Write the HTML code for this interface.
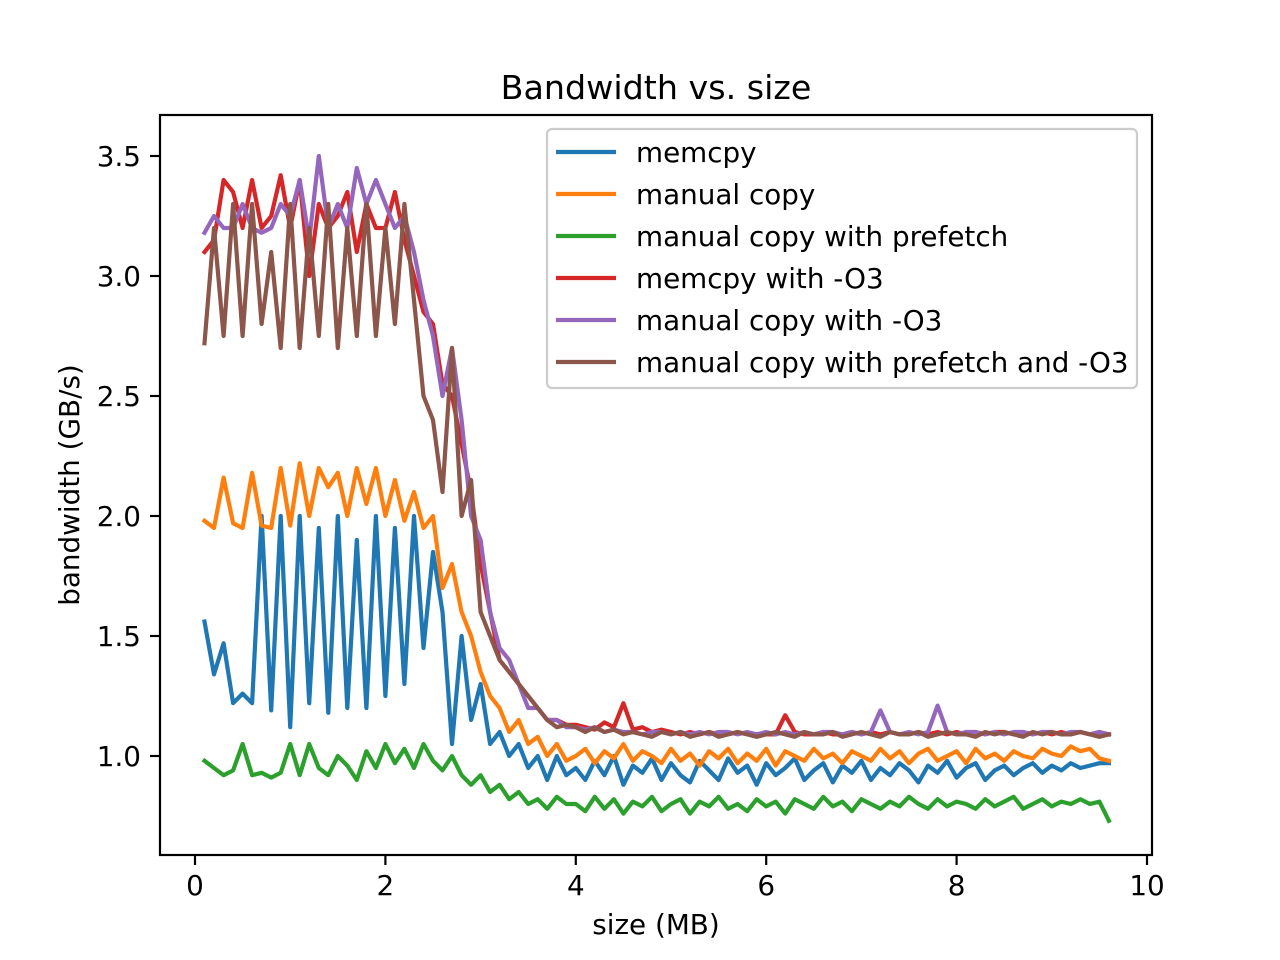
<!DOCTYPE html>
<html><head><meta charset="utf-8"><style>
html,body{margin:0;padding:0;background:#fff;}
svg{display:block;font-family:"DejaVu Sans","Liberation Sans",sans-serif;}
</style></head><body>
<svg id="chart" width="1280" height="960" viewBox="0 0 1280 960" xmlns="http://www.w3.org/2000/svg">
<rect width="1280" height="960" fill="#fff"/>
<text x="656" y="99" font-size="33.3" text-anchor="middle">Bandwidth vs. size</text>
<g id="plot"></g>
<g id="axes"></g>
<rect x="160" y="115" width="992" height="740" fill="none" stroke="#000" stroke-width="2.2"/>
<text x="656" y="934" font-size="27.8" text-anchor="middle">size (MB)</text>
<text transform="translate(79,485) rotate(-90)" font-size="27.8" text-anchor="middle">bandwidth (GB/s)</text>
<g id="legend"></g>
</svg>
<script>
const xStart = 0.1, xStep = 0.1;
const xTicks = [0, 2, 4, 6, 8, 10];
const yTicks = [1.0, 1.5, 2.0, 2.5, 3.0, 3.5];
const seriesNames = ["memcpy","manual copy","manual copy with prefetch","memcpy with -O3","manual copy with -O3","manual copy with prefetch and -O3"];
const seriesColors = ["#1f77b4","#ff7f0e","#2ca02c","#d62728","#9467bd","#8c564b"];
const memcpy = [1.56,1.34,1.47,1.22,1.26,1.22,2.0,1.19,2.0,
1.12,2.0,1.22,1.95,1.18,2.0,1.2,1.9,1.2,2.0,
1.25,1.95,1.3,2.0,1.45,1.85,1.6,1.05,1.5,1.15,
1.3,1.05,1.1,1.0,1.05,0.95,1.0,0.9,1.0,0.92,
0.95,0.9,0.98,0.92,1.0,0.88,0.96,0.93,0.99,0.9,0.97,0.92,0.89,0.98,0.94,0.9,0.99,0.93,0.96,0.88,0.97,0.92,0.95,0.99,0.9,0.94,0.97,0.89,0.96,0.93,0.98,0.9,0.95,0.92,0.97,0.94,0.89,0.96,0.93,0.98,0.91,0.95,0.97,0.9,0.94,0.96,0.92,0.95,0.97,0.93,0.96,0.94,0.97,0.95,0.96,0.97,0.97];
const manualCopy = [1.98,1.95,2.16,1.97,1.95,2.18,1.96,1.95,2.2,
1.96,2.22,2.0,2.2,2.12,2.18,2.0,2.2,2.05,2.2,
2.0,2.15,1.98,2.1,1.95,2.0,1.7,1.8,1.6,1.5,
1.35,1.25,1.2,1.1,1.15,1.05,1.08,1.0,1.05,0.98,
1.0,1.03,0.97,1.02,0.99,1.05,0.98,1.02,1.0,0.97,1.03,0.98,1.01,0.96,1.02,0.99,1.03,0.97,1.01,0.98,1.03,0.96,1.02,1.0,0.98,1.03,0.99,1.01,0.97,1.02,1.0,0.98,1.03,0.99,1.02,0.97,1.01,1.03,0.98,1.0,1.02,0.97,1.03,0.99,1.01,0.98,1.02,1.0,0.99,1.03,1.01,1.0,1.04,1.02,1.03,0.99,0.98];
const prefetch = [0.98,0.95,0.92,0.94,1.05,0.92,0.93,0.91,0.93,
1.05,0.92,1.05,0.95,0.92,1.0,0.96,0.9,1.02,0.95,
1.05,0.97,1.03,0.95,1.05,0.98,0.94,1.0,0.92,0.88,
0.92,0.85,0.88,0.82,0.85,0.8,0.82,0.78,0.83,0.8,
0.8,0.77,0.83,0.78,0.82,0.76,0.81,0.79,0.83,0.77,0.8,0.82,0.76,0.81,0.79,0.83,0.78,0.8,0.77,0.82,0.79,0.81,0.76,0.82,0.8,0.78,0.83,0.79,0.81,0.77,0.82,0.8,0.78,0.81,0.79,0.83,0.8,0.78,0.82,0.79,0.81,0.8,0.78,0.82,0.79,0.81,0.83,0.78,0.8,0.82,0.79,0.81,0.8,0.82,0.8,0.81,0.73];
const memcpyO3 = [3.1,3.15,3.4,3.35,3.2,3.4,3.2,3.25,3.42,
3.2,3.4,3.0,3.3,3.2,3.25,3.35,3.1,3.3,3.2,
3.2,3.35,3.15,3.0,2.85,2.8,2.55,2.5,2.3,2.1,
1.8,1.6,1.4,1.35,1.3,1.25,1.2,1.15,1.15,1.13,
1.13,1.12,1.11,1.14,1.12,1.22,1.11,1.12,1.1,1.11,1.1,1.09,1.1,1.09,1.1,1.09,1.09,1.1,1.09,1.09,1.09,1.09,1.17,1.1,1.09,1.09,1.1,1.09,1.09,1.1,1.09,1.1,1.09,1.1,1.09,1.09,1.1,1.09,1.1,1.09,1.1,1.09,1.1,1.09,1.1,1.1,1.09,1.1,1.09,1.1,1.09,1.1,1.09,1.1,1.09,1.1,1.09];
const manualO3 = [3.18,3.25,3.2,3.2,3.3,3.2,3.18,3.2,3.3,
3.25,3.4,3.15,3.5,3.2,3.3,3.2,3.45,3.3,3.4,
3.3,3.2,3.25,3.1,2.9,2.75,2.5,2.7,2.4,2.0,
1.9,1.6,1.45,1.4,1.3,1.2,1.2,1.15,1.15,1.12,
1.12,1.11,1.12,1.1,1.11,1.1,1.1,1.09,1.1,1.1,1.09,1.1,1.09,1.1,1.09,1.1,1.1,1.09,1.1,1.09,1.1,1.09,1.1,1.09,1.1,1.09,1.1,1.1,1.09,1.1,1.09,1.1,1.19,1.1,1.09,1.1,1.09,1.1,1.21,1.1,1.09,1.1,1.1,1.09,1.1,1.09,1.1,1.1,1.09,1.1,1.1,1.09,1.1,1.1,1.09,1.1,1.09];
const prefetchO3 = [2.72,3.2,2.75,3.3,2.75,3.3,2.8,3.1,2.7,
3.3,2.7,3.2,2.75,3.3,2.7,3.2,2.75,3.3,2.75,
3.2,2.8,3.3,2.9,2.5,2.4,2.1,2.7,2.0,2.15,
1.6,1.5,1.4,1.35,1.3,1.25,1.2,1.15,1.12,1.13,
1.12,1.1,1.12,1.1,1.11,1.09,1.1,1.09,1.08,1.1,1.09,1.1,1.08,1.09,1.1,1.08,1.09,1.1,1.09,1.08,1.09,1.1,1.09,1.08,1.1,1.09,1.09,1.1,1.08,1.09,1.1,1.09,1.08,1.1,1.09,1.09,1.1,1.08,1.09,1.1,1.09,1.09,1.08,1.1,1.09,1.1,1.09,1.08,1.1,1.09,1.1,1.09,1.09,1.1,1.09,1.08,1.09];
const allSeries = [memcpy, manualCopy, prefetch, memcpyO3, manualO3, prefetchO3];

const NS = "http://www.w3.org/2000/svg";
function xs(v){ return 195 + v * 95.2; }
function ys(v){ return 756 - (v - 1.0) * 240; }
function mk(tag, attrs, parent){ const e = document.createElementNS(NS, tag); for (const k in attrs) e.setAttribute(k, attrs[k]); parent.appendChild(e); return e; }

const axes = document.getElementById('axes');
xTicks.forEach(t => {
  const l = mk('line', {x1: xs(t), x2: xs(t), y1: 855, y2: 865, stroke: '#000', 'stroke-width': 2.2}, axes);
  
  
  const tx = mk('text', {x: xs(t), y: 895, 'font-size': 27.8, 'text-anchor': 'middle'}, axes);
  
  
  tx.textContent = String(t);
});
yTicks.forEach(t => {
  const l = mk('line', {x1: 150, x2: 160, y1: ys(t), y2: ys(t), stroke: '#000', 'stroke-width': 2.2}, axes);
  
  
  const tx = mk('text', {x: 141, y: ys(t) + 10, 'font-size': 27.8, 'text-anchor': 'end'}, axes);
  
  
  tx.textContent = t.toFixed(1);
});

const plot = document.getElementById('plot');
allSeries.forEach((s, i) => {
  const pts = s.map((v, j) => xs(xStart + j * xStep).toFixed(1) + ',' + ys(v).toFixed(1)).join(' ');
  const p = mk('polyline', {points: pts, fill: 'none', stroke: seriesColors[i], 'stroke-width': 4.2, 'stroke-linejoin': 'round', 'stroke-linecap': 'square'}, plot);
  
  
});

const legend = document.getElementById('legend');
const box = mk('rect', {x: 547, y: 129, width: 590, height: 259, rx: 5, fill: '#fff', 'fill-opacity': 0.8, stroke: '#ccc', 'stroke-width': 2.2}, legend);


seriesNames.forEach((n, i) => {
  const y = 152 + i * 42;
  const l = mk('line', {x1: 556, x2: 616, y1: y, y2: y, stroke: seriesColors[i], 'stroke-width': 4.2}, legend);
  
  
  const t = mk('text', {x: 636, y: y + 10, 'font-size': 27.8}, legend);
  
  
  t.textContent = n;
});
</script>
</body></html>
